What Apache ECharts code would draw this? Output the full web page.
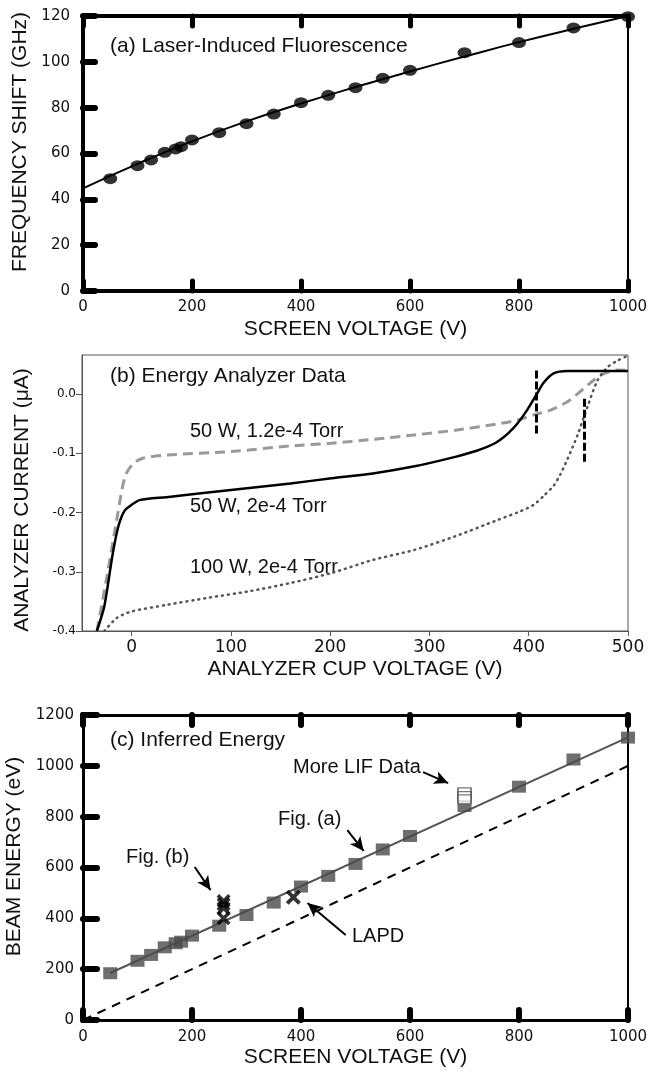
<!DOCTYPE html>
<html>
<head>
<meta charset="utf-8">
<script src="https://cdn.jsdelivr.net/npm/echarts@6/dist/echarts.min.js"></script>
<style>html,body{margin:0;padding:0;background:#fff}#c{width:649px;height:1074px}</style>
</head>
<body>
<div id="c"></div>
<script>
// ---------- Panel (a) Laser-Induced Fluorescence ----------
const aVoltage = [50,100,125,150,170,180,200,250,300,350,400,450,500,550,600,700,800,900,1000];
const aShift   = [49,54.7,57.2,60.5,62,63,65.9,69.1,73,77.2,82.2,85.4,88.7,92.8,96.3,104,108.4,114.8,119.7];
const aFitV    = [0,100,200,300,400,500,600,700,800,900,1000];
const aFitF    = [44.8,55.5,65.3,74,81.8,89,95.8,102.3,108.6,114.4,120];

// ---------- Panel (b) Energy Analyzer Data ----------
const bSolidV = [-35,-27.5,-19,-13,-6.7,0,8,35,100,160,201.5,243,285,326,345,358,366,373,380,388,398,407,415,425,439,460,500];
const bSolidI = [-0.4,-0.358,-0.269,-0.221,-0.196,-0.187,-0.179,-0.174,-0.162,-0.151,-0.142,-0.134,-0.122,-0.106,-0.097,-0.089,-0.083,-0.075,-0.065,-0.051,-0.028,-0.003,0.019,0.035,0.039,0.039,0.039];
const bDashV  = [-35,-25.4,-15,-6.7,1.7,12,35,100,160,201.5,243,285,326,368,388.5,405.3,422,439,455.6,472.4,489,500];
const bDashI  = [-0.4,-0.313,-0.212,-0.139,-0.117,-0.108,-0.103,-0.097,-0.0876,-0.083,-0.0764,-0.069,-0.061,-0.0506,-0.044,-0.035,-0.027,-0.013,0.0096,0.032,0.0405,0.040];
const bDotV   = [-27.5,-15,0,35,76.6,118,160,201.5,243,285,326,368,390,405,415,425,432,439,449,459,469,479,489,500];
const bDotI   = [-0.4,-0.378,-0.367,-0.356,-0.344,-0.333,-0.319,-0.302,-0.28,-0.263,-0.24,-0.213,-0.199,-0.187,-0.172,-0.155,-0.135,-0.11,-0.07,-0.022,0.022,0.045,0.056,0.065];
const bMarkV   = [407.6,455.5];
const bMarkTop = [0.040,-0.008];
const bMarkBot = [-0.069,-0.117];
const bXTicks = [0,100,200,300,400,500];
const bYTicks = [-0.4,-0.3,-0.2,-0.1,0];

// ---------- Panel (c) Inferred Energy ----------
const cVoltage = [50,100,125,150,170,180,200,250,300,350,400,450,500,550,600,700,800,900,1000];
const cEnergy  = [184,233,256,286,302,308,332,371,413,462,525,567,614,671,724,842,918,1025,1111];
const cFitV    = [50,1000];
const cFitE    = [185,1112];
const cRefV    = [0,1000];
const cRefE    = [0,1000];
const cMoreLifV = [700,700,700];
const cMoreLifE = [896,881,868];
const cFigBV   = [258,258,258,258];
const cFigBE   = [468,455,440,400];
const cLapdV   = [386];
const cLapdE   = [483];
const cArrowFrom = [[624,975],[485,747],[205,602],[482,334]];
const cArrowTo   = [[670,932],[515,665],[234,511],[412,460]];

const zip = (a,b) => a.map((v,i)=>[v,b[i]]);
const TICKF = 'DejaVu Sans';
const TITLEF = 'Liberation Sans, Arial, sans-serif';
const crossPath = 'path://M0,1.8L1.8,0L5,3.2L8.2,0L10,1.8L6.8,5L10,8.2L8.2,10L5,6.8L1.8,10L0,8.2L3.2,5Z';
const plain = v => String(v);

function boldAxis(extra){
  return Object.assign({
    type:'value',
    axisLine:{show:true,onZero:false,lineStyle:{color:'#000',width:4}},
    axisTick:{show:true,inside:true,length:10,lineStyle:{color:'#000',width:5,cap:'round'}},
    splitLine:{show:false},
    axisLabel:{show:false}
  }, extra);
}

const chart = echarts.init(document.getElementById('c'), null, {renderer:'canvas'});
const option = {
  animation:false,
  backgroundColor:'#fff',
  grid:[
    {left:83, top:16, width:545, height:275, outerBoundsMode:'none', containLabel:false},
    {left:82, top:355, width:546, height:276, show:true, borderColor:'#555', borderWidth:1, backgroundColor:'transparent', outerBoundsMode:'none', containLabel:false},
    {left:83, top:715, width:545, height:305, outerBoundsMode:'none', containLabel:false}
  ],
  xAxis:[
    boldAxis({gridIndex:0, position:'bottom', min:0, max:1000, interval:200,
      axisLabel:{show:true, margin:9, color:'#111', fontFamily:TICKF, fontSize:15, formatter:plain},
      name:'SCREEN VOLTAGE (V)', nameLocation:'middle', nameGap:28,
      nameTextStyle:{fontFamily:TITLEF, fontSize:21, color:'#111'}}),
    boldAxis({gridIndex:0, position:'top', min:0, max:1000, interval:200}),
    {type:'value', gridIndex:1, position:'bottom', min:-50, max:500,
      axisLine:{show:true,onZero:false,lineStyle:{color:'#555',width:1}},
      axisTick:{show:true,inside:false,length:5,customValues:bXTicks,lineStyle:{color:'#555',width:1}},
      axisLabel:{show:true,margin:8,customValues:bXTicks,color:'#111',fontFamily:TICKF,fontSize:17,formatter:plain},
      splitLine:{show:false},
      name:'ANALYZER CUP VOLTAGE (V)', nameLocation:'middle', nameGap:28,
      nameTextStyle:{fontFamily:TITLEF, fontSize:21, color:'#111'}},
    boldAxis({gridIndex:2, position:'bottom', min:0, max:1000, interval:200,
      axisLine:{show:true,onZero:false,lineStyle:{color:'#000',width:3}},
      axisTick:{show:true,inside:true,length:10,lineStyle:{color:'#000',width:6,cap:'round'}},
      axisLabel:{show:true, margin:10, color:'#111', fontFamily:TICKF, fontSize:15, formatter:plain},
      name:'SCREEN VOLTAGE (V)', nameLocation:'middle', nameGap:27,
      nameTextStyle:{fontFamily:TITLEF, fontSize:21, color:'#111'}}),
    boldAxis({gridIndex:2, position:'top', min:0, max:1000, interval:200,
      axisLine:{show:true,onZero:false,lineStyle:{color:'#000',width:3}},
      axisTick:{show:true,inside:true,length:10,lineStyle:{color:'#000',width:6,cap:'round'}}})
  ],
  yAxis:[
    boldAxis({gridIndex:0, position:'left', min:0, max:120, interval:20,
      axisTick:{show:true,inside:true,length:12,lineStyle:{color:'#000',width:6,cap:'round'}},
      axisLabel:{show:true, margin:13, color:'#111', fontFamily:TICKF, fontSize:15, formatter:plain},
      name:'FREQUENCY SHIFT (GHz)', nameLocation:'middle', nameGap:50,
      nameTextStyle:{fontFamily:TITLEF, fontSize:21, color:'#111', padding:[0,0,0,23]}}),
    {type:'value', gridIndex:0, position:'right', min:0, max:120,
      axisLine:{show:true,onZero:false,lineStyle:{color:'#000',width:2}}, axisTick:{show:false}, axisLabel:{show:false}, splitLine:{show:false}},
    {type:'value', gridIndex:1, position:'left', min:-0.4, max:0.066,
      axisLine:{show:true,onZero:false,lineStyle:{color:'#555',width:1}},
      axisTick:{show:true,inside:false,length:6,customValues:bYTicks,lineStyle:{color:'#555',width:1}},
      axisLabel:{show:true,margin:6,customValues:bYTicks,color:'#111',fontFamily:TICKF,fontSize:12,
        formatter:v=>Number(v).toFixed(1)},
      splitLine:{show:false},
      name:'ANALYZER CURRENT (μA)', nameLocation:'middle', nameGap:49,
      nameTextStyle:{fontFamily:TITLEF, fontSize:21, color:'#111', padding:[0,14,0,0]}},
    boldAxis({gridIndex:2, position:'left', min:0, max:1200, interval:200,
      axisLine:{show:true,onZero:false,lineStyle:{color:'#000',width:3}},
      axisTick:{show:true,inside:true,length:14,lineStyle:{color:'#000',width:6,cap:'round'}},
      axisLabel:{show:true, margin:9, color:'#111', fontFamily:TICKF, fontSize:15, formatter:plain},
      name:'BEAM ENERGY (eV)', nameLocation:'middle', nameGap:56,
      nameTextStyle:{fontFamily:TITLEF, fontSize:21, color:'#111', padding:[0,0,0,22]}}),
    {type:'value', gridIndex:2, position:'right', min:0, max:1200,
      axisLine:{show:true,onZero:false,lineStyle:{color:'#000',width:2}}, axisTick:{show:false}, axisLabel:{show:false}, splitLine:{show:false}}
  ],
  series:[
    // panel a
    {type:'line', xAxisIndex:0, yAxisIndex:0, data:zip(aFitV,aFitF), smooth:true, showSymbol:false,
      lineStyle:{color:'#000',width:2}, z:2},
    {type:'scatter', xAxisIndex:0, yAxisIndex:0, data:zip(aVoltage,aShift), symbol:'circle', symbolSize:[14,11],
      itemStyle:{color:'#000'}, z:3},
    // panel b
    {type:'line', xAxisIndex:2, yAxisIndex:2, data:zip(bDashV,bDashI), smooth:0.25, showSymbol:false,
      lineStyle:{color:'#9a9a9a',width:3,type:[10,6]}, z:2},
    {type:'line', xAxisIndex:2, yAxisIndex:2, data:zip(bDotV,bDotI), smooth:0.25, showSymbol:false,
      lineStyle:{color:'#555',width:2.5,type:[1,5],cap:'round'}, z:2},
    {type:'line', xAxisIndex:2, yAxisIndex:2, data:zip(bSolidV,bSolidI), smooth:0.25, showSymbol:false,
      lineStyle:{color:'#000',width:2.5}, z:3,
      markLine:{silent:true, symbol:['none','none'], label:{show:false},
        lineStyle:{color:'#000',width:3,type:[8,3]},
        data:bMarkV.map((v,i)=>[{coord:[v,bMarkTop[i]]},{coord:[v,bMarkBot[i]]}])}},
    // panel c
    {type:'line', xAxisIndex:3, yAxisIndex:3, data:zip(cRefV,cRefE), showSymbol:false,
      lineStyle:{color:'#000',width:2,type:[9,7]}, z:2,
      markLine:{silent:true, symbol:['none','arrow'], symbolSize:[10,14], label:{show:false},
        lineStyle:{color:'#000',width:2,type:'solid'},
        data:cArrowFrom.map((p,i)=>[{coord:p},{coord:cArrowTo[i]}])}},
    {type:'line', xAxisIndex:3, yAxisIndex:3, data:zip(cFitV,cFitE), showSymbol:false,
      lineStyle:{color:'#555',width:2}, z:2},
    {type:'scatter', xAxisIndex:3, yAxisIndex:3, data:zip(cVoltage,cEnergy), symbol:'rect', symbolSize:[14,12],
      itemStyle:{color:'#4a4a4a'}, z:3},
    {type:'scatter', xAxisIndex:3, yAxisIndex:3, data:zip(cMoreLifV,cMoreLifE), symbol:'rect', symbolSize:[13,9],
      itemStyle:{color:'#fff',borderColor:'#555',borderWidth:1.5}, z:4},
    {type:'scatter', xAxisIndex:3, yAxisIndex:3, data:zip(cFigBV,cFigBE), symbol:crossPath, symbolSize:14,
      itemStyle:{color:'#000'}, z:5},
    {type:'scatter', xAxisIndex:3, yAxisIndex:3, data:zip(cLapdV,cLapdE), symbol:crossPath, symbolSize:15,
      itemStyle:{color:'#000'}, z:5}
  ],
  graphic:[
    {type:'text', left:110, top:36, style:{text:'(a) Laser-Induced Fluorescence', fontFamily:TITLEF, fontSize:21, fill:'#111'}},
    {type:'text', left:110, top:366, style:{text:'(b) Energy Analyzer Data', fontFamily:TITLEF, fontSize:21, fill:'#111'}},
    {type:'text', left:190, top:421, style:{text:'50 W, 1.2e-4 Torr', fontFamily:TITLEF, fontSize:20, fill:'#111'}},
    {type:'text', left:190, top:496, style:{text:'50 W, 2e-4 Torr', fontFamily:TITLEF, fontSize:20, fill:'#111'}},
    {type:'text', left:190, top:557, style:{text:'100 W, 2e-4 Torr', fontFamily:TITLEF, fontSize:20, fill:'#111'}},
    {type:'text', left:110, top:730, style:{text:'(c) Inferred Energy', fontFamily:TITLEF, fontSize:21, fill:'#111'}},
    {type:'text', left:293, top:757, style:{text:'More LIF Data', fontFamily:TITLEF, fontSize:20, fill:'#111'}},
    {type:'text', left:278, top:809, style:{text:'Fig. (a)', fontFamily:TITLEF, fontSize:20, fill:'#111'}},
    {type:'text', left:126, top:847, style:{text:'Fig. (b)', fontFamily:TITLEF, fontSize:20, fill:'#111'}},
    {type:'text', left:352, top:926, style:{text:'LAPD', fontFamily:TITLEF, fontSize:20, fill:'#111'}}
  ]
};
chart.setOption(option);
</script>
</body>
</html>
